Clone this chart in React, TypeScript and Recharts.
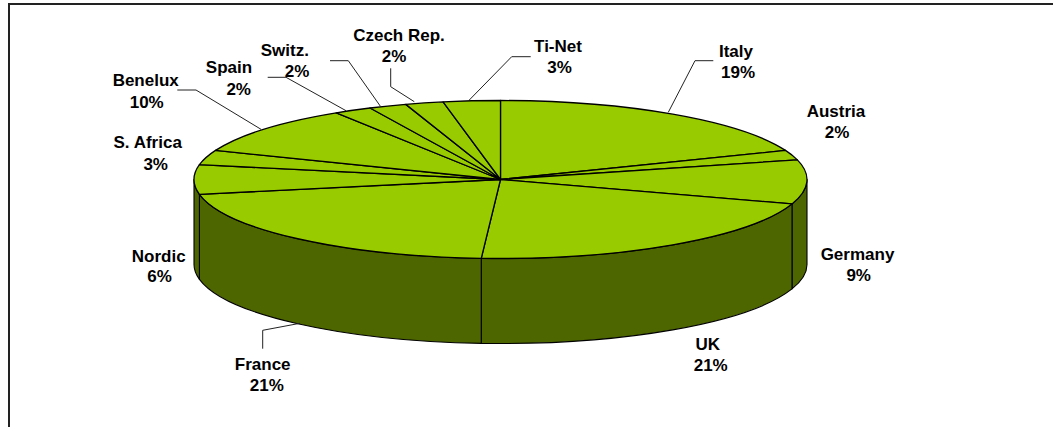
import { Pie, PieChart } from 'recharts'

const regions = ['Italy', 'Austria', 'Germany', 'UK', 'France', 'Nordic', 'S. Africa', 'Benelux', 'Spain', 'Switz.', 'Czech Rep.', 'Ti-Net']
const shares = [19, 2, 9, 21, 21, 6, 3, 10, 2, 2, 2, 3]

const chartData = regions.map((name, i) => ({ name, value: shares[i] }))

const CX = 500.5
const CY = 179.5
const RX = 306.5
const RY = 79
const DEPTH = 85

const TOP_COLOR = '#99cc00'
const WALL_COLOR = '#4d6600'
const FONT = '"Liberation Sans", Arial, sans-serif'

// Where each two-line label sits: name line, percent line, optional leader line
const labelLayout: { name: number[]; pct: number[]; leader?: number[][] }[] = [
  { name: [736, 51.7], pct: [738, 72], leader: [[713.3, 60.7], [695, 60.7], [668.3, 112.3]] },
  { name: [836, 111], pct: [837, 132] },
  { name: [857.5, 254], pct: [858.7, 275] },
  { name: [707.7, 344], pct: [710.7, 365.7] },
  { name: [262.7, 364], pct: [266.8, 385], leader: [[262.7, 348.7], [262.7, 330.3], [300, 323.3]] },
  { name: [158.7, 256], pct: [159.5, 276.7] },
  { name: [147.7, 142], pct: [155.7, 164] },
  { name: [145.7, 80], pct: [146.7, 102], leader: [[177.3, 90], [196, 90], [261, 129.3]] },
  { name: [229, 67], pct: [238.7, 89], leader: [[267.7, 77.3], [286, 77.3], [346, 110.7]] },
  { name: [284.8, 50.7], pct: [297, 71], leader: [[330, 60.7], [348.3, 60.7], [380.7, 106.7]] },
  { name: [399, 35], pct: [394, 56.7], leader: [[390.7, 68.3], [390.7, 86.7], [414.3, 101.7]] },
  { name: [558, 46.7], pct: [559.5, 67.7], leader: [[530.7, 56.7], [511.7, 56.7], [469.3, 100]] },
]

// Point on the flattened rim for a pie angle in degrees
function rim(angle: number, offsetY = 0) {
  const rad = (angle * Math.PI) / 180
  return { x: CX + RX * Math.cos(rad), y: CY - RY * Math.sin(rad) + offsetY }
}

// Top face of a slice, squashed into an ellipse
function TopSlice({ startAngle, endAngle }: any) {
  const a = rim(startAngle)
  const b = rim(endAngle)
  const large = Math.abs(startAngle - endAngle) > 180 ? 1 : 0
  const d = `M${CX},${CY} L${a.x},${a.y} A${RX},${RY} 0 ${large} 1 ${b.x},${b.y} Z`
  return <path d={d} fill={TOP_COLOR} stroke="#000" strokeWidth={1.3} strokeLinejoin="round" />
}

// Side wall of a slice, only the part along the front half of the rim
function WallSlice({ startAngle, endAngle }: any) {
  const hi = Math.min(startAngle, 0)
  const lo = Math.max(endAngle, -180)
  if (hi <= lo) return null
  const a = rim(hi)
  const b = rim(lo)
  const c = rim(lo, DEPTH)
  const e = rim(hi, DEPTH)
  const d = `M${a.x},${a.y} A${RX},${RY} 0 0 1 ${b.x},${b.y} L${c.x},${c.y} A${RX},${RY} 0 0 0 ${e.x},${e.y} Z`
  return <path d={d} fill={WALL_COLOR} stroke="#000" strokeWidth={1.1} strokeLinejoin="round" />
}

function RegionLabel({ index }: any) {
  const spot = labelLayout[index]
  const textProps = {
    textAnchor: 'middle' as const,
    dominantBaseline: 'central' as const,
    fontFamily: FONT,
    fontSize: 17,
    fontWeight: 700,
    fill: '#000',
  }
  return (
    <g>
      <text x={spot.name[0]} y={spot.name[1]} {...textProps}>{regions[index]}</text>
      <text x={spot.pct[0]} y={spot.pct[1]} {...textProps}>{shares[index]}%</text>
    </g>
  )
}

function LeaderLine({ index }: any) {
  const leader = labelLayout[index].leader
  if (!leader) return <g />
  return <polyline points={leader.map((p) => p.join(',')).join(' ')} fill="none" stroke="#222" strokeWidth={1} />
}

export default function App() {
  return (
    <div
      style={{
        position: 'absolute',
        left: 0,
        top: 0,
        width: 1053,
        height: 427,
        overflow: 'hidden',
        background: '#fff',
      }}
    >
      <div style={{ position: 'absolute', left: 8, top: 3, width: 1045, height: 2, background: '#222' }} />
      <div style={{ position: 'absolute', left: 8, top: 3, width: 2, height: 424, background: '#222' }} />
      <PieChart width={1053} height={427} margin={{ top: 0, right: 0, bottom: 0, left: 0 }}>
        <Pie
          data={chartData}
          dataKey="value"
          nameKey="name"
          cx={CX}
          cy={CY}
          outerRadius={RX}
          startAngle={90}
          endAngle={-270}
          shape={WallSlice}
          isAnimationActive={false}
        />
        <Pie
          data={chartData}
          dataKey="value"
          nameKey="name"
          cx={CX}
          cy={CY}
          outerRadius={RX}
          startAngle={90}
          endAngle={-270}
          shape={TopSlice}
          label={RegionLabel}
          labelLine={LeaderLine}
          isAnimationActive={false}
        />
      </PieChart>
    </div>
  )
}
